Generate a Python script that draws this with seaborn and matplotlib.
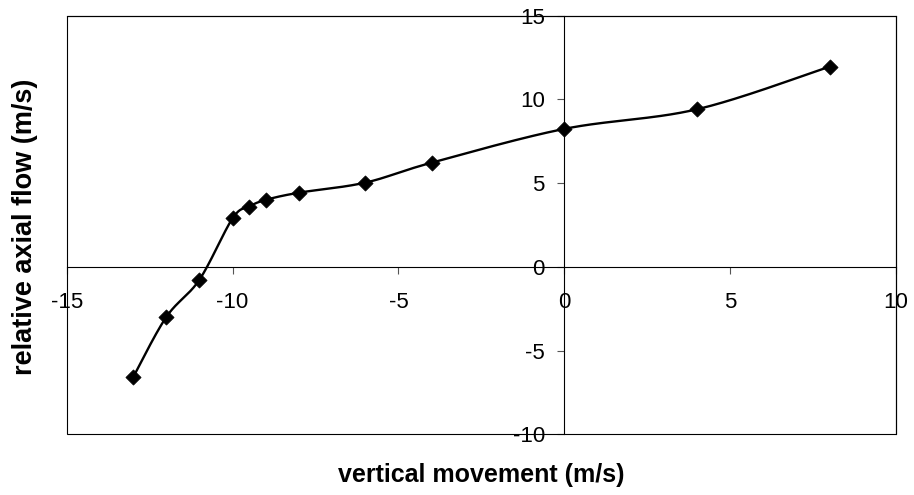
import numpy as np
import pandas as pd
import matplotlib
matplotlib.use("Agg")
import matplotlib.pyplot as plt
from matplotlib.patches import Rectangle
import seaborn as sns

# ---- data ----
vertical_movement = [-13, -12, -11, -10, -9.5, -9, -8, -6, -4, 0, 4, 8]
relative_axial_flow = [-6.6, -3.0, -0.77, 2.9, 3.6, 4.0, 4.43, 5.03, 6.22, 8.24, 9.41, 11.96]
x_ticks = [-15, -10, -5, 0, 5, 10]
y_ticks = [-10, -5, 0, 5, 10, 15]
x_label = "vertical movement (m/s)"
y_label = "relative axial flow (m/s)"


def smooth_curve(xs, ys, n=40):
    """Excel-like smoothed line: cubic Bezier segments with Catmull-Rom control points."""
    P = np.column_stack([xs, ys]).astype(float)
    out = []
    m = len(P)
    for i in range(m - 1):
        p0 = P[i - 1] if i > 0 else P[i]
        p1 = P[i]
        p2 = P[i + 1]
        p3 = P[i + 2] if i + 2 < m else P[i + 1]
        c1 = p1 + (p2 - p0) / 6.0
        c2 = p2 - (p3 - p1) / 6.0
        t = np.linspace(0, 1, n, endpoint=(i == m - 2))[:, None]
        seg = ((1 - t) ** 3) * p1 + 3 * ((1 - t) ** 2) * t * c1 + 3 * (1 - t) * t ** 2 * c2 + t ** 3 * p2
        out.append(seg)
    out = np.vstack(out)
    return out[:, 0], out[:, 1]


sns.set_theme(style="white")
plt.rcParams["font.family"] = ["Liberation Sans", "DejaVu Sans"]
plt.rcParams["axes.unicode_minus"] = False
plt.rcParams["text.color"] = "black"
plt.rcParams["axes.labelcolor"] = "black"
plt.rcParams["xtick.color"] = "black"
plt.rcParams["ytick.color"] = "black"

fig = plt.figure(figsize=(9.14, 4.95), dpi=100)
ax = fig.add_axes([0.073, 0.1226, 0.9803 - 0.073, 0.9683 - 0.1226])
ax.set_facecolor("white")

sx, sy = smooth_curve(vertical_movement, relative_axial_flow)
curve = pd.DataFrame({"x": sx, "y": sy})
pts = pd.DataFrame({"x": vertical_movement, "y": relative_axial_flow})

sns.lineplot(data=curve, x="x", y="y", sort=False, estimator=None,
             color="black", linewidth=1.7, ax=ax, zorder=3)
sns.scatterplot(data=pts, x="x", y="y", marker="D", s=60, color="black",
                edgecolor="black", linewidth=0.5, ax=ax, zorder=4)

ax.set_xlim(-15, 10)
ax.set_ylim(-10, 15)
ax.set_xticks(x_ticks)
ax.set_yticks(y_ticks)
ax.set_xticklabels([str(v) for v in x_ticks])
ax.set_yticklabels([str(v) for v in y_ticks])

# axes crossing at zero
for side in ["left", "bottom"]:
    ax.spines[side].set_position(("data", 0))
    ax.spines[side].set_color("black")
    ax.spines[side].set_linewidth(0.8)
for side in ["top", "right"]:
    ax.spines[side].set_visible(True)
    ax.spines[side].set_color("black")
    ax.spines[side].set_linewidth(0.8)
ax.add_patch(Rectangle((0, 0), 1, 1, transform=ax.transAxes, fill=False,
                       edgecolor="black", linewidth=0.8, clip_on=False, zorder=2))

ax.tick_params(axis="x", which="major", direction="out", length=5, width=0.8,
               color="#555555", labelcolor="black", labelsize=16, pad=13,
               bottom=True, top=False)
ax.tick_params(axis="y", which="major", direction="out", length=5, width=0.8,
               color="#555555", labelcolor="black", labelsize=16, pad=9,
               left=True, right=False)

ax.set_xlabel(x_label, fontsize=18, fontweight="bold", color="black")
ax.set_ylabel(y_label, fontsize=19.5, fontweight="bold", color="black")
ax.xaxis.set_label_coords(0.5, -0.097)
ax.yaxis.set_label_coords(-0.0503, 0.495)
ax.xaxis.label.set_verticalalignment("center")
ax.yaxis.label.set_verticalalignment("center")

fig.savefig("out.png", dpi=100, facecolor="white")
